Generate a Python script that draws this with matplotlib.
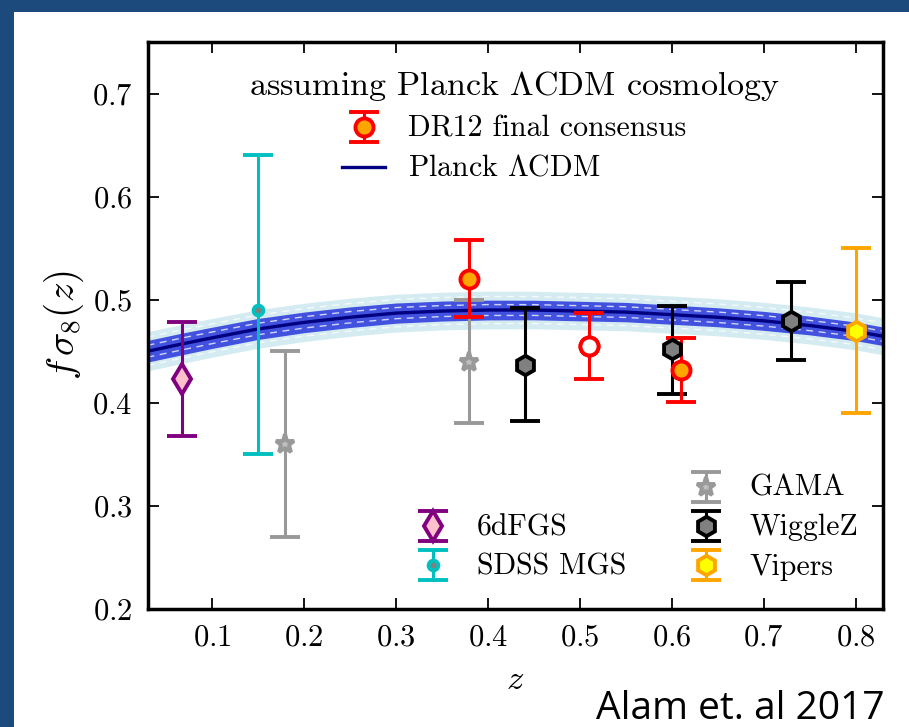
import matplotlib
matplotlib.use("Agg")
import matplotlib.pyplot as plt
from matplotlib.patches import Rectangle

plt.rcParams['font.family'] = 'cmr10'
plt.rcParams['mathtext.fontset'] = 'cm'
plt.rcParams['axes.unicode_minus'] = False
plt.rcParams['axes.formatter.use_mathtext'] = True

# Planck LCDM prediction
z_model = [0.03, 0.067, 0.1, 0.15, 0.2, 0.25, 0.3, 0.35, 0.4, 0.45, 0.5, 0.55, 0.6, 0.65, 0.7, 0.75, 0.8, 0.83]
fs8_model = [0.450, 0.457, 0.463, 0.4716, 0.478, 0.483, 0.487, 0.489, 0.490, 0.490, 0.489, 0.488, 0.4855, 0.483, 0.4795, 0.475, 0.4693, 0.4645]
sig1 = [0.0105, 0.0105, 0.0103, 0.0102, 0.010, 0.010, 0.0098, 0.0097, 0.0096, 0.0095, 0.0095, 0.0094, 0.0093, 0.0092, 0.0092, 0.0091, 0.009, 0.009]
sig2 = [0.019, 0.019, 0.0188, 0.0187, 0.0186, 0.0185, 0.0184, 0.0183, 0.0183, 0.0182, 0.0182, 0.0181, 0.0181, 0.018, 0.018, 0.018, 0.018, 0.018]

# DR12 final consensus
z_dr12 = [0.38, 0.51, 0.61]
fs8_dr12 = [0.520, 0.455, 0.432]
lo_dr12 = [0.037, 0.032, 0.031]
hi_dr12 = [0.038, 0.032, 0.031]

z_6df = [0.067]
fs8_6df = [0.423]
err_6df = [0.055]

z_mgs = [0.15]
fs8_mgs = [0.49]
lo_mgs = [0.14]
hi_mgs = [0.15]

z_gama = [0.18, 0.38]
fs8_gama = [0.36, 0.44]
err_gama = [0.09, 0.06]

z_wig = [0.44, 0.60, 0.73]
fs8_wig = [0.437, 0.452, 0.479]
lo_wig = [0.055, 0.043, 0.037]
hi_wig = [0.055, 0.042, 0.038]

z_vip = [0.80]
fs8_vip = [0.47]
err_vip = [0.08]

fig = plt.figure(figsize=(9.09, 7.27), dpi=100, facecolor='#1d4a7d')
fig.add_artist(Rectangle((14 / 909, 0), 1, 1 - 12 / 727, transform=fig.transFigure,
                         facecolor='white', edgecolor='none', zorder=-5))
ax = fig.add_axes([147.5 / 909, 1 - 609 / 727, 735.8 / 909, 567 / 727])

up2 = [m + s for m, s in zip(fs8_model, sig2)]
dn2 = [m - s for m, s in zip(fs8_model, sig2)]
up1 = [m + s for m, s in zip(fs8_model, sig1)]
dn1 = [m - s for m, s in zip(fs8_model, sig1)]
ax.fill_between(z_model, dn2, up2, color='lightblue', alpha=0.5, lw=0, zorder=1)
ax.fill_between(z_model, dn1, up1, color='#3a4ade', alpha=0.95, lw=0, zorder=1)
for frac in [0.55, 0.72]:
    for sgn in [1, -1]:
        ax.plot(z_model, [m + sgn * frac * s for m, s in zip(fs8_model, sig2 if frac > 0.6 else sig1)],
                color='white', lw=1, ls=(0, (5, 4)), alpha=0.75, zorder=1.5)
line_planck, = ax.plot(z_model, fs8_model, color='#000080', lw=2.4, zorder=2)

eb = dict(capsize=10.5, elinewidth=2.2, capthick=2.6, mew=2.8, ls='none', zorder=3)
h_gama = ax.errorbar(z_gama, fs8_gama, yerr=err_gama, fmt='*', color='0.6', mfc='0.75', ms=14, **eb)
h_6df = ax.errorbar(z_6df, fs8_6df, yerr=err_6df, fmt='d', color='purple', mfc='pink', ms=15, **eb)
h_mgs = ax.errorbar(z_mgs, fs8_mgs, yerr=[lo_mgs, hi_mgs], fmt='o', color='c', mfc='0.5', ms=7, **eb)
h_wig = ax.errorbar(z_wig, fs8_wig, yerr=[lo_wig, hi_wig], fmt='h', color='k', mfc='0.5', ms=14, **eb)
h_vip = ax.errorbar(z_vip, fs8_vip, yerr=err_vip, fmt='h', color='orange', mfc='yellow', ms=14, **eb)
h_dr12 = ax.errorbar(z_dr12, fs8_dr12, yerr=[lo_dr12, hi_dr12], fmt='o', color='red', mfc='orange', ms=13, **eb)
# the middle DR12 point is drawn open
ax.plot(z_dr12[1], fs8_dr12[1], 'o', mec='red', mfc='white', ms=13, mew=2.8, zorder=4)

ax.set_xlim(0.03, 0.83)
ax.set_ylim(0.2, 0.75)
ax.set_xticks([0.1, 0.2, 0.3, 0.4, 0.5, 0.6, 0.7, 0.8])
ax.set_yticks([0.2, 0.3, 0.4, 0.5, 0.6, 0.7])
ax.tick_params(direction='in', top=True, right=True, length=8, width=1.3, labelsize=22, pad=11)
for sp in ax.spines.values():
    sp.set_linewidth(2.5)
ax.set_xlabel(r'$z$', fontsize=25, labelpad=9)
ax.set_ylabel(r'$f\,\sigma_8(z)$', fontsize=28, labelpad=4)

leg_kw = dict(frameon=False, fontsize=21.5, handlelength=1.45, handletextpad=0.75,
              handleheight=0.45, borderpad=0, borderaxespad=0, labelspacing=0.4)
leg1 = ax.legend([h_dr12, line_planck], ['DR12 final consensus', r'Planck $\Lambda$CDM'],
                 loc='upper center', bbox_to_anchor=(0.498, 0.952),
                 title=r'assuming Planck $\Lambda$CDM cosmology', title_fontsize=24.5, **leg_kw)
ax.add_artist(leg1)
leg2 = ax.legend([h_6df, h_mgs], ['6dFGS', 'SDSS MGS'], loc='lower left',
                 bbox_to_anchor=(0.358, 0.05), **leg_kw)
ax.add_artist(leg2)
ax.legend([h_gama, h_wig, h_vip], ['GAMA', 'WiggleZ', 'Vipers'], loc='lower left',
          bbox_to_anchor=(0.729, 0.05), **leg_kw)

fig.text(885 / 909, 1 - 719 / 727, 'Alam et. al 2017', family='Open Sans', fontsize=28,
         ha='right', va='baseline', color='black')

fig.savefig('out.png', dpi=100, facecolor=fig.get_facecolor())
